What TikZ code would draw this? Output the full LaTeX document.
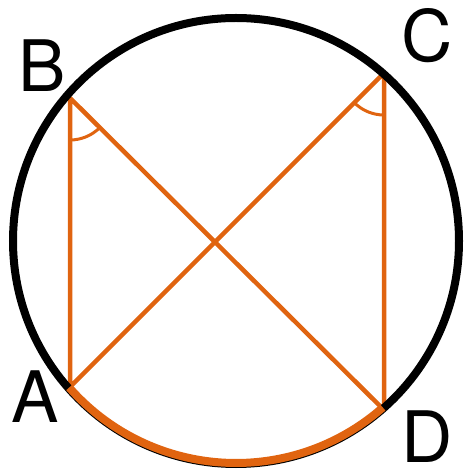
\documentclass[tikz,border=0pt]{standalone}
\usepackage{fontspec}
\setmainfont{TeX Gyre Heros}
\usetikzlibrary{angles}
\definecolor{orng}{RGB}{224,100,16}
\begin{document}
\begin{tikzpicture}[x=1pt,y=1pt,
  rim/.style={line width=8pt,black},
  chord/.style={line width=4.5pt,orng,line join=round},
  arcmark/.style={line width=8pt,orng},
  lab/.style={inner sep=0pt,font=\fontsize{71}{71}\selectfont}]
\useasboundingbox (0,0) rectangle (463,471);
\coordinate (O) at (236,230);
\coordinate (A) at (70,84);
\coordinate (B) at (70,373);
\coordinate (C) at (384,398);
\coordinate (D) at (384,61);
\draw[chord] (A) -- (B) -- (D) -- (C) -- cycle;
\pic[draw=orng,line width=3pt,angle radius=42pt] {angle=A--B--D};
\pic[draw=orng,line width=3pt,angle radius=42pt] {angle=A--C--D};
\draw[rim] (O) circle[radius=223];
\draw[arcmark] ([shift={(221.3:222)}]O) arc[start angle=221.3,end angle=311.4,radius=222];
\node[lab] (la) at (35,74) {A};
\node[lab] (lb) at (42,405) {B};
\node[lab] (lc) at (427,435) {C};
\node[lab] (ld) at (427,34) {D};
\end{tikzpicture}
\end{document}
